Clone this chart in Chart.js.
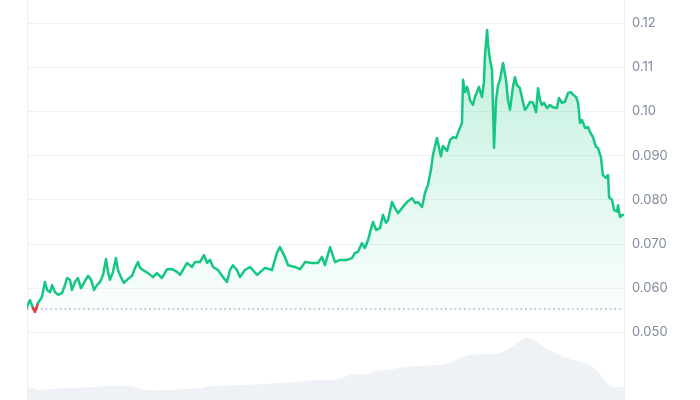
<!DOCTYPE html>
<html>
<head>
<meta charset="utf-8">
<script src="https://cdn.jsdelivr.net/npm/chart.js@4.4.1/dist/chart.umd.min.js"></script>
<style>
  html, body { margin: 0; padding: 0; background: #fff; }
  #wrap { width: 700px; height: 400px; }
</style>
</head>
<body>
<div id="wrap"><canvas id="priceChart" width="700" height="400"></canvas></div>
<script>
// --- Data ---
// time in days since the start of the range
const priceDays = [0, 0.15, 0.30, 0.40, 0.55, 0.75, 0.90, 1.01, 1.16, 1.26, 1.41, 1.56, 1.76, 1.91, 2.01, 2.16, 2.26, 2.41, 2.56, 2.71,
    2.86, 3.07, 3.22, 3.37, 3.52, 3.67, 3.82, 3.97, 4.07, 4.17, 4.32, 4.47, 4.57, 4.72, 4.87, 5.08, 5.28, 5.43, 5.58, 5.68,
    5.83, 6.08, 6.33, 6.53, 6.78, 7.04, 7.29, 7.54, 7.69, 8.04, 8.29, 8.44, 8.69, 8.89, 9.05, 9.20, 9.35, 9.60, 9.85, 10.05,
    10.20, 10.35, 10.55, 10.70, 10.95, 11.21, 11.56, 11.96, 12.31, 12.56, 12.71, 12.96, 13.12, 13.47, 13.72, 13.97, 14.32, 14.62, 14.82, 14.97,
    15.23, 15.48, 15.73, 16.08, 16.33, 16.48, 16.63, 16.83, 16.98, 17.14, 17.24, 17.39, 17.54, 17.74, 17.89, 18.04, 18.14, 18.34, 18.49, 18.64,
    18.89, 19.10, 19.35, 19.50, 19.65, 19.85, 20.00, 20.15, 20.30, 20.40, 20.60, 20.80, 20.90, 21.11, 21.26, 21.41, 21.56, 21.71, 21.86, 21.91,
    22.01, 22.11, 22.16, 22.26, 22.41, 22.51, 22.61, 22.71, 22.86, 22.96, 23.01, 23.12, 23.17, 23.27, 23.37, 23.47, 23.57, 23.67, 23.77, 23.92,
    24.07, 24.17, 24.27, 24.42, 24.52, 24.62, 24.77, 24.92, 25.02, 25.13, 25.28, 25.43, 25.58, 25.68, 25.78, 25.88, 25.98, 26.13, 26.28, 26.43,
    26.63, 26.73, 26.88, 27.03, 27.19, 27.34, 27.44, 27.59, 27.69, 27.79, 27.89, 28.04, 28.19, 28.29, 28.44, 28.59, 28.69, 28.84, 28.94, 29.09,
    29.20, 29.25, 29.40, 29.50, 29.65, 29.70, 29.80, 29.90, 30.00];
const priceValues = [0.0557, 0.0573, 0.0555, 0.0546, 0.0566, 0.0580, 0.0614, 0.0596, 0.0591, 0.0607, 0.0591, 0.0585, 0.0589, 0.0607, 0.0623, 0.0619, 0.0596, 0.0614, 0.0623, 0.0600,
    0.0612, 0.0628, 0.0619, 0.0596, 0.0607, 0.0614, 0.0630, 0.0666, 0.0637, 0.0619, 0.0637, 0.0668, 0.0641, 0.0625, 0.0612, 0.0621, 0.0628, 0.0646, 0.0659, 0.0646,
    0.0641, 0.0634, 0.0625, 0.0634, 0.0623, 0.0643, 0.0643, 0.0637, 0.0630, 0.0657, 0.0648, 0.0659, 0.0659, 0.0675, 0.0657, 0.0664, 0.0648, 0.0641, 0.0625, 0.0614,
    0.0641, 0.0652, 0.0641, 0.0625, 0.0641, 0.0648, 0.0630, 0.0646, 0.0641, 0.0680, 0.0693, 0.0671, 0.0652, 0.0648, 0.0643, 0.0659, 0.0657, 0.0657, 0.0671, 0.0652,
    0.0693, 0.0659, 0.0664, 0.0664, 0.0668, 0.0680, 0.0682, 0.0702, 0.0691, 0.0709, 0.0727, 0.0750, 0.0732, 0.0736, 0.0766, 0.0748, 0.0754, 0.0795, 0.0782, 0.0770,
    0.0784, 0.0795, 0.0804, 0.0793, 0.0795, 0.0784, 0.0816, 0.0834, 0.0868, 0.0902, 0.0940, 0.0899, 0.0922, 0.0911, 0.0936, 0.0942, 0.0940, 0.0958, 0.0974, 0.1072,
    0.1044, 0.1056, 0.1049, 0.1026, 0.1015, 0.1033, 0.1044, 0.1056, 0.1033, 0.1065, 0.1124, 0.1185, 0.1151, 0.1117, 0.1094, 0.0918, 0.1026, 0.1060, 0.1072, 0.1110,
    0.1072, 0.1026, 0.1004, 0.1056, 0.1078, 0.1060, 0.1053, 0.1022, 0.1004, 0.1010, 0.1022, 0.1020, 0.0999, 0.1053, 0.1026, 0.1015, 0.1020, 0.1008, 0.1015, 0.1010,
    0.1008, 0.1031, 0.1020, 0.1022, 0.1042, 0.1044, 0.1038, 0.1033, 0.1020, 0.0974, 0.0981, 0.0963, 0.0965, 0.0954, 0.0942, 0.0920, 0.0918, 0.0897, 0.0856, 0.0850,
    0.0856, 0.0806, 0.0800, 0.0777, 0.0773, 0.0788, 0.0761, 0.0766, 0.0766];

const volumeDays = [0, 0.25, 0.55, 1.26, 1.91, 3.57, 3.92, 5.08, 5.58, 6.03, 7.09, 7.94, 8.79, 9.30, 10.80, 11.96, 12.46, 13.62, 14.32, 14.97,
    15.73, 16.23, 17.14, 17.49, 18.14, 18.64, 19.65, 20.75, 21.36, 22.01, 22.76, 23.67, 24.17, 24.62, 25.02, 25.38, 26.03, 26.68, 27.39, 28.04,
    28.39, 28.79, 29.20, 29.55, 30.00];
// volume in millions
const volumeValues = [6.5, 6, 5, 5.5, 6, 6.5, 7, 7, 6, 5, 5, 5.5, 6, 7, 7.5, 8, 8.5, 9, 10, 10,
    10.5, 12.5, 13, 14.5, 15, 16, 17, 17.5, 19, 22, 23, 23, 25.5, 28.5, 31, 30.5, 26, 23, 20, 18.5,
    17, 13, 7.5, 6.5, 6.5];

const openPrice = 0.05528;
const tickValues = [0.05, 0.06, 0.07, 0.08, 0.09, 0.10, 0.11, 0.12];
const priceMin = 0.03466;
const priceMax = 0.12528;
const volumeMax = 200;

const GREEN = '#16c784';
const RED = '#ea3943';
const GRID = '#eff2f5';

function pairs(xs, ys) {
    return xs.map((x, i) => ({ x, y: ys[i] }));
}

function greenFill(ctx) {
    const chart = ctx.chart;
    const area = chart.chartArea;
    if (!area) return 'rgba(22,199,132,0.1)';
    const bottom = chart.scales.y.getPixelForValue(openPrice);
    const g = chart.ctx.createLinearGradient(0, area.top, 0, bottom);
    g.addColorStop(0, 'rgba(22,199,132,0.30)');
    g.addColorStop(1, 'rgba(22,199,132,0.02)');
    return g;
}

const belowOpen = ctx => ctx.p0.parsed.y < openPrice || ctx.p1.parsed.y < openPrice;

const frameLine = {
    id: 'frameLine',
    beforeDatasetsDraw(chart) {
        const { ctx, chartArea } = chart;
        ctx.save();
        ctx.strokeStyle = GRID;
        ctx.lineWidth = 1;
        ctx.beginPath();
        ctx.moveTo(chartArea.left + 0.5, chartArea.top);
        ctx.lineTo(chartArea.left + 0.5, chartArea.bottom);
        ctx.stroke();
        ctx.restore();
    }
};

new Chart(document.getElementById('priceChart').getContext('2d'), {
    type: 'line',
    data: {
        datasets: [
            {
                label: 'Price',
                data: pairs(priceDays, priceValues),
                yAxisID: 'y',
                borderColor: GREEN,
                borderWidth: 2.5,
                borderJoinStyle: 'round',
                borderCapStyle: 'round',
                backgroundColor: greenFill,
                fill: { value: openPrice },
                pointRadius: 0,
                tension: 0,
                segment: {
                    borderColor: ctx => belowOpen(ctx) ? RED : GREEN
                },
                order: 0
            },
            {
                label: 'Open',
                data: pairs([0, 30], [openPrice, openPrice]),
                yAxisID: 'y',
                borderColor: '#a9afbd',
                borderWidth: 1.5,
                borderDash: [1.5, 3.2],
                pointRadius: 0,
                fill: false,
                order: 1
            },
            {
                label: 'Volume',
                data: pairs(volumeDays, volumeValues),
                yAxisID: 'yv',
                borderWidth: 0,
                borderColor: 'rgba(0,0,0,0)',
                backgroundColor: '#eef1f5',
                fill: 'origin',
                pointRadius: 0,
                tension: 0.2,
                order: 2
            }
        ]
    },
    options: {
        responsive: false,
        animation: false,
        devicePixelRatio: 1,
        layout: { padding: { left: 27, top: 0, right: 0, bottom: 0 } },
        plugins: { legend: { display: false }, tooltip: { enabled: false } },
        scales: {
            x: { type: 'linear', min: 0, max: 30, display: false },
            y: {
                position: 'right',
                min: priceMin,
                max: priceMax,
                afterBuildTicks: s => { s.ticks = tickValues.map(v => ({ value: v })); },
                afterFit: s => { s.width = 76; s.paddingTop = 0; s.paddingBottom = 0; },
                grid: { color: GRID, drawTicks: false },
                border: { color: GRID },
                ticks: {
                    padding: 8,
                    color: '#808a9d',
                    font: { family: 'Inter', size: 13 },
                    callback: v => v >= 0.1 ? v.toFixed(2) : v.toFixed(3)
                }
            },
            yv: { position: 'left', min: 0, max: volumeMax, display: false }
        }
    },
    plugins: [frameLine]
});
</script>
</body>
</html>
